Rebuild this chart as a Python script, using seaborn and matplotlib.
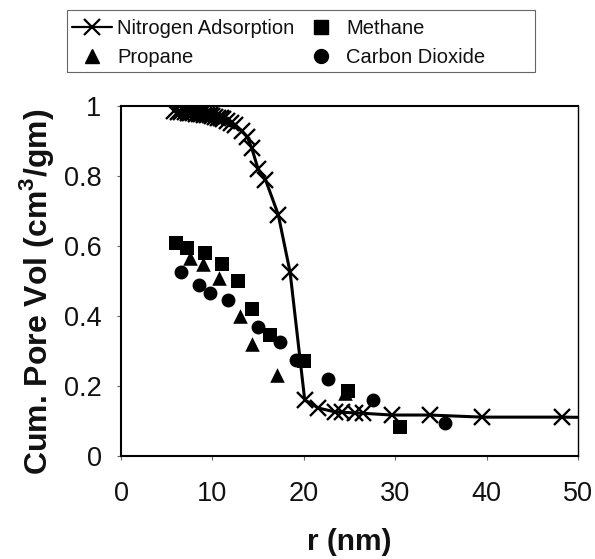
import matplotlib
matplotlib.use('Agg')
import matplotlib.pyplot as plt
import seaborn as sns
from matplotlib.lines import Line2D
from matplotlib.patches import Rectangle

# Nitrogen adsorption curve (x markers joined by a line)
n2_r = [5.8, 6.2, 6.6, 7.0, 7.3, 7.6, 7.9, 8.2, 8.5, 8.8, 9.1, 9.4, 9.7, 10.0,
        10.3, 10.6, 10.9, 11.2, 11.6, 12.0, 12.5, 13.2, 13.8, 14.3, 15.0, 15.8,
        17.2, 18.5, 20.1, 21.6, 23.4, 24.2, 25.6, 26.5, 29.6, 33.8, 39.5, 48.2, 52.0]
n2_vol = [0.985, 0.984, 0.983, 0.982, 0.981, 0.980, 0.979, 0.978, 0.977, 0.976,
          0.975, 0.974, 0.973, 0.971, 0.969, 0.967, 0.965, 0.962, 0.958, 0.952,
          0.945, 0.930, 0.912, 0.880, 0.820, 0.790, 0.690, 0.525, 0.160, 0.137,
          0.126, 0.125, 0.123, 0.122, 0.117, 0.117, 0.111, 0.111, 0.110]

methane_r = [6.0, 7.2, 9.2, 11.0, 12.8, 14.3, 16.3, 20.0, 24.8, 30.5]
methane_vol = [0.61, 0.595, 0.58, 0.55, 0.50, 0.42, 0.345, 0.27, 0.185, 0.083]

propane_r = [7.5, 9.0, 10.7, 13.0, 14.3, 17.1, 24.5]
propane_vol = [0.565, 0.55, 0.51, 0.40, 0.32, 0.23, 0.18]

co2_r = [6.6, 8.5, 9.7, 11.7, 15.0, 17.4, 19.2, 22.6, 27.6, 35.4]
co2_vol = [0.525, 0.49, 0.465, 0.445, 0.37, 0.325, 0.275, 0.22, 0.16, 0.095]

x_ticks = [0, 10, 20, 30, 40, 50]
y_ticks = [0, 0.2, 0.4, 0.6, 0.8, 1.0]
y_tick_labels = ['0', '0.2', '0.4', '0.6', '0.8', '1']

sns.set_style("ticks")
plt.rcParams['font.family'] = ['Liberation Sans', 'DejaVu Sans']
plt.rcParams['mathtext.fontset'] = 'custom'
plt.rcParams['mathtext.rm'] = 'Liberation Sans:bold'
plt.rcParams['mathtext.bf'] = 'Liberation Sans:bold'

fig = plt.figure(figsize=(5.95, 5.59), dpi=100)
ax = fig.add_axes([0.2034, 0.1843, 0.768, 0.626])

sns.lineplot(x=n2_r, y=n2_vol, ax=ax, color='black', linewidth=2.2, marker='x',
             markersize=11, markeredgewidth=1.7, markeredgecolor='black', sort=False)
sns.scatterplot(x=methane_r, y=methane_vol, ax=ax, marker='s', color='black', s=110,
                edgecolor='black', linewidth=0, zorder=3)
sns.scatterplot(x=propane_r, y=propane_vol, ax=ax, marker='^', color='black', s=110,
                edgecolor='black', linewidth=0, zorder=3)
sns.scatterplot(x=co2_r, y=co2_vol, ax=ax, marker='o', color='black', s=100,
                edgecolor='black', linewidth=0, zorder=3)

ax.set_xlim(0, 50)
ax.set_ylim(0, 1)
ax.set_xticks(x_ticks)
ax.set_yticks(y_ticks)
ax.set_yticklabels(y_tick_labels)
ax.tick_params(axis='both', labelsize=19.5, length=3, width=0.8, color='#666666',
               labelcolor='#111111')
ax.tick_params(axis='x', pad=15)
ax.tick_params(axis='y', pad=11)
for side in ['left', 'bottom', 'right', 'top']:
    ax.spines[side].set_visible(True)
    ax.spines[side].set_color('black')
ax.spines['left'].set_linewidth(1.5)
ax.spines['bottom'].set_linewidth(1.5)
ax.spines['right'].set_linewidth(1.0)
ax.spines['top'].set_linewidth(1.5)

ax.set_xlabel('r (nm)', fontsize=21.5, fontweight='bold', labelpad=15, color='#111111')
ax.set_ylabel('Cum. Pore Vol (cm$^{3}$/gm)', fontsize=23, fontweight='bold',
              color='#111111')
ax.yaxis.set_label_coords(-0.142, 0.47)

handles = [
    Line2D([], [], color='black', linewidth=1.6, marker='x', markersize=11, markeredgewidth=1.6),
    Line2D([], [], color='black', linestyle='none', marker='^', markersize=10),
    Line2D([], [], color='black', linestyle='none', marker='s', markersize=9.5),
    Line2D([], [], color='black', linestyle='none', marker='o', markersize=10),
]
labels = ['Nitrogen Adsorption', 'Propane', 'Methane', 'Carbon Dioxide']
leg = fig.legend(handles, labels, ncol=2, loc='upper left',
                 bbox_to_anchor=(72 / 595, 1 - 19 / 559),
                 fontsize=14.5, frameon=False,
                 handlelength=2.0, handletextpad=0.25, columnspacing=0.3,
                 labelspacing=0.5, borderpad=0.0, borderaxespad=0.0)
for t in leg.get_texts():
    t.set_color('#111111')

# legend box
fig.add_artist(Rectangle((67 / 595, 1 - 72 / 559), 468 / 595, 62 / 559,
                         transform=fig.transFigure, fill=False,
                         edgecolor='#666666', linewidth=0.8))

fig.savefig('out.png', dpi=100)
